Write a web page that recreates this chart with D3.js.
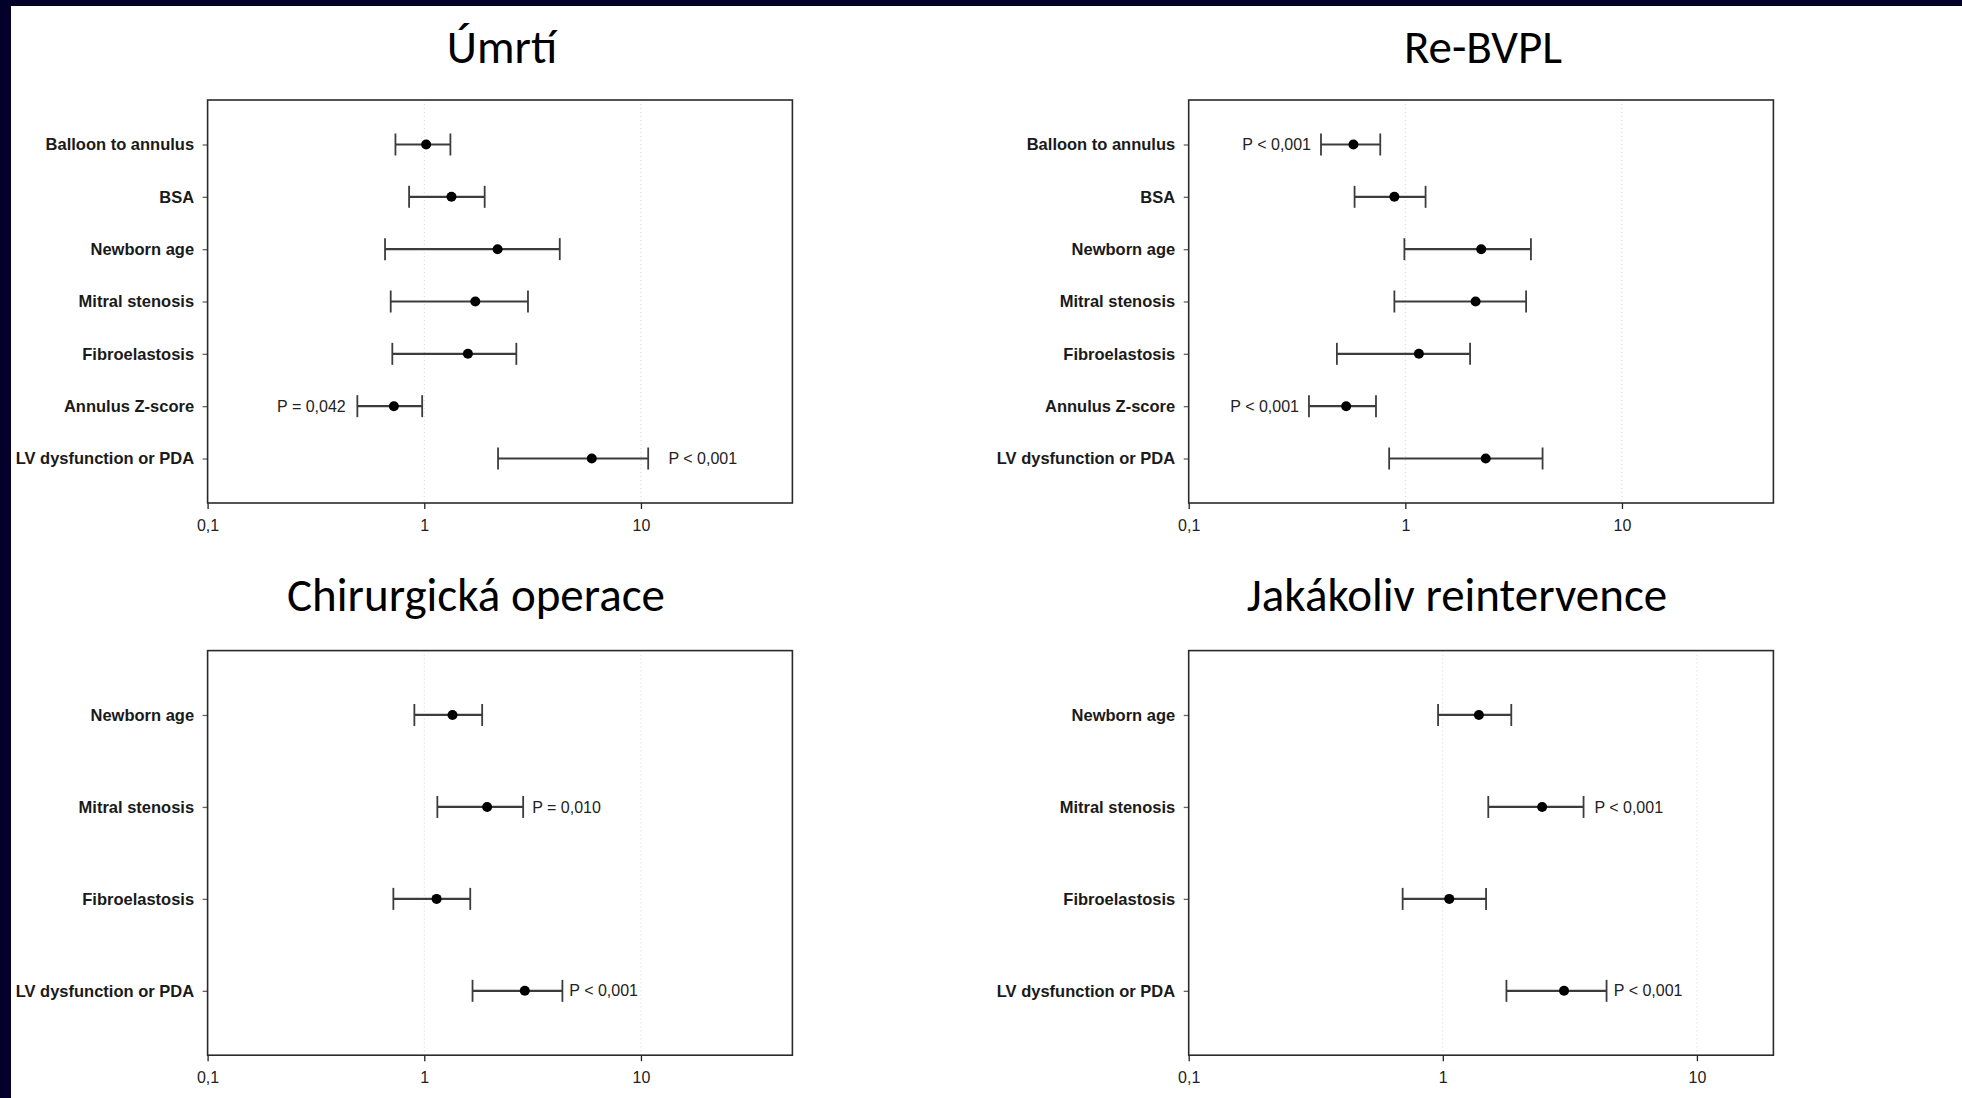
<!DOCTYPE html>
<html>
<head>
<meta charset="utf-8">
<script src="https://cdn.jsdelivr.net/npm/d3@7"></script>
<style>
  html, body { margin: 0; padding: 0; background: #fff; overflow: hidden; }
  svg { display: block; }
</style>
</head>
<body>
<svg id="chart" width="1962" height="1098"></svg>
<script>
// ---- Data: hazard ratios with 95% confidence intervals (log scale) ----
const titles = ["Úmrtí", "Re-BVPL", "Chirurgická operace", "Jakákoliv reintervence"];

const predictorsFull = [
  "Balloon to annulus", "BSA", "Newborn age", "Mitral stenosis",
  "Fibroelastosis", "Annulus Z-score", "LV dysfunction or PDA"
];
const predictorsShort = ["Newborn age", "Mitral stenosis", "Fibroelastosis", "LV dysfunction or PDA"];

// Úmrtí
const deathEst  = [1.02, 1.335, 2.18, 1.72, 1.59, 0.724, 5.93];
const deathLow  = [0.736, 0.851, 0.659, 0.70, 0.712, 0.491, 2.19];
const deathHigh = [1.32, 1.90, 4.22, 3.01, 2.66, 0.978, 10.8];
const deathP = [
  { row: "Annulus Z-score", text: "P = 0,042", side: "left", at: 0.434 },
  { row: "LV dysfunction or PDA", text: "P < 0,001", side: "right", at: 13.4 }
];

// Re-BVPL
const rebvplEst  = [0.576, 0.89, 2.24, 2.11, 1.155, 0.533, 2.35];
const rebvplLow  = [0.408, 0.583, 0.99, 0.89, 0.483, 0.359, 0.842];
const rebvplHigh = [0.766, 1.24, 3.80, 3.61, 1.99, 0.732, 4.30];
const rebvplP = [
  { row: "Balloon to annulus", text: "P < 0,001", side: "left", at: 0.367 },
  { row: "Annulus Z-score", text: "P < 0,001", side: "left", at: 0.323 }
];

// Chirurgická operace
const surgeryEst  = [1.35, 1.95, 1.14, 2.91];
const surgeryLow  = [0.90, 1.149, 0.72, 1.67];
const surgeryHigh = [1.85, 2.86, 1.63, 4.34];
const surgeryP = [
  { row: "Mitral stenosis", text: "P = 0,010", side: "right", at: 3.15 },
  { row: "LV dysfunction or PDA", text: "P < 0,001", side: "right", at: 4.67 }
];

// Jakákoliv reintervence
const anyEst  = [1.387, 2.46, 1.06, 3.0];
const anyLow  = [0.958, 1.51, 0.695, 1.78];
const anyHigh = [1.86, 3.58, 1.48, 4.41];
const anyP = [
  { row: "Mitral stenosis", text: "P < 0,001", side: "right", at: 3.95 },
  { row: "LV dysfunction or PDA", text: "P < 0,001", side: "right", at: 4.71 }
];

// Axis ticks
const tickValues = [0.1, 1, 10];
const tickLabels = ["0,1", "1", "10"];
const gridValues = [1, 10];

// ---- Layout ----
const W = 1962, H = 1098;
const svg = d3.select("#chart");
svg.append("rect").attr("width", W).attr("height", H).attr("fill", "#ffffff");
// slide frame
svg.append("rect").attr("x", 0).attr("y", 0).attr("width", W).attr("height", 6).attr("fill", "#03002a");
svg.append("rect").attr("x", 0).attr("y", 0).attr("width", 11).attr("height", H).attr("fill", "#03002a");

const panels = [
  { title: titles[0], cats: predictorsFull, est: deathEst, lo: deathLow, hi: deathHigh, notes: deathP,
    xMax: 50, box: { x: 207.6, y: 100, w: 584.8, h: 403 }, titleX: 502, titleY: 63, pad: 0.85, tickPad: 11 },
  { title: titles[1], cats: predictorsFull, est: rebvplEst, lo: rebvplLow, hi: rebvplHigh, notes: rebvplP,
    xMax: 50, box: { x: 1188.7, y: 100, w: 584.7, h: 403 }, titleX: 1483, titleY: 63, pad: 0.85, tickPad: 11 },
  { title: titles[2], cats: predictorsShort, est: surgeryEst, lo: surgeryLow, hi: surgeryHigh, notes: surgeryP,
    xMax: 50, box: { x: 207.6, y: 650.6, w: 584.8, h: 404.6 }, titleX: 476, titleY: 611, pad: 0.70, tickPad: 10 },
  { title: titles[3], cats: predictorsShort, est: anyEst, lo: anyLow, hi: anyHigh, notes: anyP,
    xMax: 20, box: { x: 1188.7, y: 650.6, w: 584.7, h: 404.6 }, titleX: 1457, titleY: 611, pad: 0.70, tickPad: 10 }
];

const barColor = "#3c3c3c";
const labelFont = "'Liberation Sans', Arial, Helvetica, sans-serif";

panels.forEach(p => {
  const g = svg.append("g");
  const b = p.box;

  const x = d3.scaleLog().domain([0.1, p.xMax]).range([b.x, b.x + b.w]);
  const y = d3.scalePoint().domain(p.cats).range([b.y, b.y + b.h]).padding(p.pad);

  // title
  g.append("text")
    .attr("x", p.titleX).attr("y", p.titleY)
    .attr("text-anchor", "middle")
    .attr("font-family", "Carlito, Lato, 'Open Sans', sans-serif")
    .attr("font-size", 47)
    .attr("fill", "#000")
    .text(p.title);

  // dotted reference lines
  g.selectAll("line.grid").data(gridValues).join("line")
    .attr("class", "grid")
    .attr("x1", d => x(d)).attr("x2", d => x(d))
    .attr("y1", b.y).attr("y2", b.y + b.h)
    .attr("stroke", "#d4d4d4").attr("stroke-width", 1)
    .attr("stroke-dasharray", "1,3");

  // x axis
  const xAxis = d3.axisBottom(x)
    .tickValues(tickValues)
    .tickFormat((d, i) => tickLabels[i])
    .tickSize(6).tickPadding(p.tickPad);
  const gx = g.append("g").attr("transform", `translate(0,${b.y + b.h})`).call(xAxis);
  gx.select(".domain").remove();
  gx.selectAll(".tick line").attr("stroke", "#222").attr("stroke-width", 1.3);
  gx.selectAll(".tick text")
    .attr("font-family", labelFont).attr("font-size", 16).attr("fill", "#222");

  // y axis
  const yAxis = d3.axisLeft(y).tickSize(5).tickPadding(8.5);
  const gy = g.append("g").attr("transform", `translate(${b.x},0)`).call(yAxis);
  gy.select(".domain").remove();
  gy.selectAll(".tick line").attr("stroke", "#666").attr("stroke-width", 1.3);
  gy.selectAll(".tick text")
    .attr("font-family", labelFont).attr("font-size", 16.5)
    .attr("font-weight", "bold").attr("fill", "#1a1a1a");

  // plot frame
  g.append("rect")
    .attr("x", b.x).attr("y", b.y).attr("width", b.w).attr("height", b.h)
    .attr("fill", "none").attr("stroke", "#2a2a2a").attr("stroke-width", 1.6);

  const rows = p.cats.map((c, i) => ({ cat: c, est: p.est[i], lo: p.lo[i], hi: p.hi[i] }));

  // confidence intervals
  g.selectAll("line.ci").data(rows).join("line")
    .attr("class", "ci")
    .attr("x1", d => x(d.lo)).attr("x2", d => x(d.hi))
    .attr("y1", d => y(d.cat)).attr("y2", d => y(d.cat))
    .attr("stroke", barColor).attr("stroke-width", 2.2);

  ["lo", "hi"].forEach(k => {
    g.selectAll("line.cap-" + k).data(rows).join("line")
      .attr("class", "cap-" + k)
      .attr("x1", d => x(d[k])).attr("x2", d => x(d[k]))
      .attr("y1", d => y(d.cat) - 11).attr("y2", d => y(d.cat) + 11)
      .attr("stroke", barColor).attr("stroke-width", 1.8);
  });

  // point estimates
  g.selectAll("circle.est").data(rows).join("circle")
    .attr("class", "est")
    .attr("cx", d => x(d.est)).attr("cy", d => y(d.cat))
    .attr("r", 5).attr("fill", "#000");

  // significance notes
  g.selectAll("text.pval").data(p.notes).join("text")
    .attr("class", "pval")
    .attr("x", d => x(d.at)).attr("y", d => y(d.row))
    .attr("dy", "0.35em")
    .attr("text-anchor", d => d.side === "left" ? "end" : "start")
    .attr("font-family", labelFont).attr("font-size", 16).attr("fill", "#222")
    .text(d => d.text);
});
</script>
</body>
</html>
